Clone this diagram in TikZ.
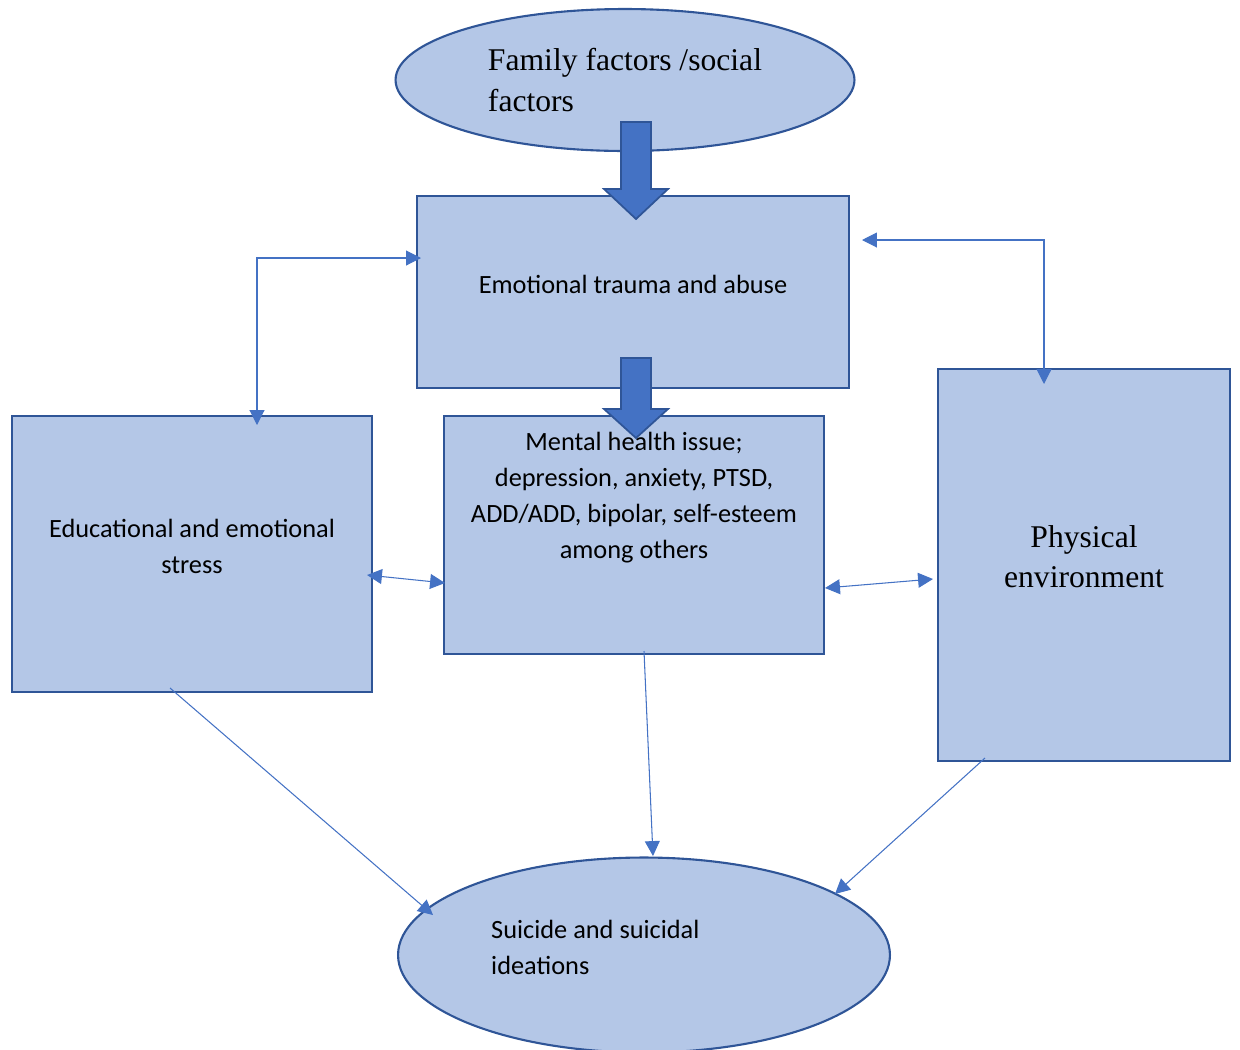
\documentclass[tikz,border=0pt]{standalone}
\usepackage{fontspec}
\setmainfont{Liberation Serif}
\newfontfamily\calibri{Carlito}
\usetikzlibrary{arrows.meta,shapes.geometric}
\definecolor{boxfill}{HTML}{B4C7E7}
\definecolor{boxline}{HTML}{2F5597}
\definecolor{linkblue}{HTML}{4472C4}

\begin{document}
\begin{tikzpicture}[x=0.02cm, y=-0.02cm,
    box/.style={rectangle, draw=boxline, fill=boxfill, line width=1.2pt, inner sep=0pt},
    oval/.style={ellipse, draw=boxline, fill=boxfill, line width=1.2pt, inner sep=0pt},
    serif/.style={font=\fontsize{18}{22.8}\selectfont},
    sans/.style={font=\calibri\fontsize{15}{20.5}\selectfont},
    conn/.style={draw=linkblue, line width=0.6pt, >={Triangle[length=8.5pt,width=8.5pt]}},
    bigarrow/.style={fill=linkblue, draw=boxline, line width=1pt}]
	\useasboundingbox (0,0) rectangle (1240,1049);

	\node[oval, serif, align=left, minimum width=9.18cm, minimum height=2.84cm] (fam) at (625,80) {Family factors /social\\factors};
	\node[box, minimum width=8.64cm, minimum height=3.84cm] (trauma) at (633,292) {};
	\node[sans] (traumaText) at (633,284) {Emotional trauma and abuse};
	\node[box, minimum width=7.6cm, minimum height=4.76cm] (mental) at (634,535) {};
	\node[sans, align=center] (mentalText) at (634,498) {Mental health issue;\\depression, anxiety, PTSD,\\ADD/ADD, bipolar, self-esteem\\among others};
	\node[box, minimum width=7.2cm, minimum height=5.52cm] (edu) at (192,554) {};
	\node[sans, align=center] (eduText) at (192,546) {Educational and emotional\\stress};
	\node[box, minimum width=5.84cm, minimum height=7.84cm] (phys) at (1084,565) {};
	\node[serif, align=center] (physText) at (1084,557) {Physical\\environment};
	\node[oval, minimum width=9.84cm, minimum height=3.9cm] (suicide) at (644,955) {};
	\node[sans, align=left, anchor=west] (suicideText) at (485,947) {Suicide and suicidal\\ideations};

	% thick arrows down the middle
	\filldraw[bigarrow] (621,122) -- (651,122) -- (651,189) -- (668,189) -- (636,219) -- (604,189) -- (621,189) -- cycle;
	\filldraw[bigarrow] (621,358) -- (651,358) -- (651,409) -- (668,409) -- (636,438) -- (604,409) -- (621,409) -- cycle;

	\coordinate (eduTop) at (257,425);
	\coordinate (traumaLeft) at (421,258);
	\coordinate (traumaRight) at (862,240);
	\coordinate (physTop) at (1044,384);
	\coordinate (eduRight) at (367,575);
	\coordinate (mentalLeft) at (445,583);
	\coordinate (mentalRight) at (825,588);
	\coordinate (physLeft) at (933,579);
	\coordinate (eduFoot) at (170,688);
	\coordinate (mentalFoot) at (644,651);
	\coordinate (physFoot) at (985,758);
	\coordinate (suiLeft) at (433,915);
	\coordinate (suiTop) at (653,856);
	\coordinate (suiRight) at (835,894);

	\draw[conn, <->] (eduTop) |- (traumaLeft);
	\draw[conn, <->] (traumaRight) -| (physTop);
	\draw[conn, <->] (eduRight) -- (mentalLeft);
	\draw[conn, <->] (mentalRight) -- (physLeft);
	\draw[conn, ->] (eduFoot) -- (suiLeft);
	\draw[conn, ->] (mentalFoot) -- (suiTop);
	\draw[conn, ->] (physFoot) -- (suiRight);
\end{tikzpicture}
\end{document}
